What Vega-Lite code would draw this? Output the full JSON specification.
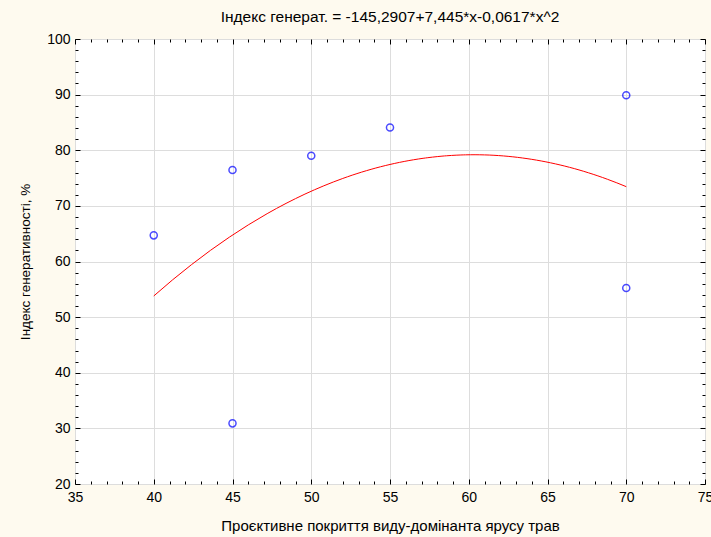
{
  "$schema": "https://vega.github.io/schema/vega-lite/v6.json",
  "width": 630,
  "height": 445,
  "autosize": {"type": "none"},
  "padding": {"left": 75, "top": 39, "right": 6, "bottom": 53},
  "background": "#fefaef",
  "title": {
    "text": "Індекс генерат. = -145,2907+7,445*x-0,0617*x^2",
    "fontSize": 15.5,
    "font": "Liberation Sans",
    "fontWeight": "normal",
    "color": "#000000",
    "offset": 7
  },
  "config": {
    "view": {"fill": "white", "stroke": "black", "strokeWidth": 1},
    "font": "Liberation Sans"
  },
  "data": {
    "values": [
      {"x": 40, "y": 64.7},
      {"x": 45, "y": 76.45},
      {"x": 45, "y": 30.9},
      {"x": 50, "y": 79.0},
      {"x": 55, "y": 84.1},
      {"x": 70, "y": 89.9},
      {"x": 70, "y": 55.25}
    ]
  },
  "resolve": {"axis": {"x": "independent", "y": "independent"}},
  "layer": [
    {
      "mark": {"type": "point", "shape": "circle", "filled": false, "color": "#0000ff", "size": 50, "strokeWidth": 1.5},
      "encoding": {
        "x": {
          "field": "x", "type": "quantitative",
          "scale": {"domain": [35, 75], "nice": false, "zero": false},
          "axis": {
            "orient": "bottom",
            "values": [35,36,37,38,39,40,41,42,43,44,45,46,47,48,49,50,51,52,53,54,55,56,57,58,59,60,61,62,63,64,65,66,67,68,69,70,71,72,73,74,75],
            "labelExpr": "datum.value % 5 === 0 ? datum.label : ''",
            "labelFontSize": 14, "labelColor": "#000000", "labelPadding": 11,
            "labelFlush": false, "labelOverlap": false,
            "domain": false,
            "grid": true, "gridColor": "#dddddd", "gridWidth": 1,
            "gridOpacity": {"condition": {"test": "datum.value % 5 === 0", "value": 1}, "value": 0},
            "ticks": true, "tickColor": "#000000",
            "tickSize": {"condition": {"test": "datum.value % 5 === 0", "value": -5}, "value": -3},
            "title": "Проєктивне покриття виду-домінанта ярусу трав",
            "titleFontSize": 15, "titleFontWeight": "normal", "titleColor": "#000000", "titlePadding": 12
          }
        },
        "y": {
          "field": "y", "type": "quantitative",
          "scale": {"domain": [20, 100], "nice": false, "zero": false},
          "axis": {
            "orient": "left",
            "values": [20,22,24,26,28,30,32,34,36,38,40,42,44,46,48,50,52,54,56,58,60,62,64,66,68,70,72,74,76,78,80,82,84,86,88,90,92,94,96,98,100],
            "labelExpr": "datum.value % 10 === 0 ? datum.label : ''",
            "labelFontSize": 14, "labelColor": "#000000", "labelPadding": 10,
            "labelFlush": false, "labelOverlap": false,
            "domain": false,
            "grid": true, "gridColor": "#dddddd", "gridWidth": 1,
            "gridOpacity": {"condition": {"test": "datum.value % 10 === 0", "value": 1}, "value": 0},
            "ticks": true, "tickColor": "#000000",
            "tickSize": {"condition": {"test": "datum.value % 10 === 0", "value": -5}, "value": -3},
            "title": "Індекс генеративності, %",
            "titleFontSize": 13.5, "titleFontWeight": "normal", "titleColor": "#000000", "titlePadding": 14
          }
        }
      }
    },
    {
      "transform": [
        {"regression": "y", "on": "x", "method": "poly", "order": 2, "extent": [40, 70]}
      ],
      "mark": {"type": "line", "color": "#ff0000", "strokeWidth": 1},
      "encoding": {
        "x": {
          "field": "x", "type": "quantitative",
          "axis": {
            "orient": "top",
            "values": [35,36,37,38,39,40,41,42,43,44,45,46,47,48,49,50,51,52,53,54,55,56,57,58,59,60,61,62,63,64,65,66,67,68,69,70,71,72,73,74,75],
            "labels": false, "domain": false, "grid": false, "title": null,
            "tickColor": "#000000",
            "tickSize": {"condition": {"test": "datum.value % 5 === 0", "value": -5}, "value": -3}
          }
        },
        "y": {
          "field": "y", "type": "quantitative",
          "axis": {
            "orient": "right",
            "values": [20,22,24,26,28,30,32,34,36,38,40,42,44,46,48,50,52,54,56,58,60,62,64,66,68,70,72,74,76,78,80,82,84,86,88,90,92,94,96,98,100],
            "labels": false, "domain": false, "grid": false, "title": null,
            "tickColor": "#000000",
            "tickSize": {"condition": {"test": "datum.value % 10 === 0", "value": -5}, "value": -3}
          }
        }
      }
    }
  ]
}
